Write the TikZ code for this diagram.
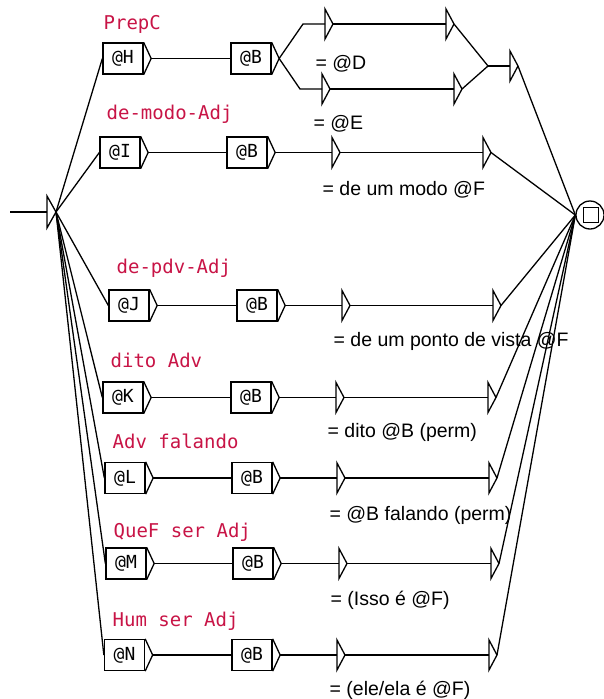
\documentclass[tikz,border=0pt]{standalone}
\usepackage{fontspec}
\setmainfont{Liberation Sans}
\newfontfamily\monof{DejaVu Sans Mono}
\definecolor{lbl}{RGB}{200,20,70}
\newcommand\UBox[4]{%
  \node[boxst] (#1) at (#2,#3) {#4};
  \coordinate (#1-o) at ([xshift=7.5pt]#1.east);
  \draw (#1.north east) -- (#1-o) -- (#1.south east);
}
\newcommand\ETri[3]{%
  \coordinate (#1) at (#2,#3);
  \coordinate (#1-o) at (#2+8,#3);
  \draw (#2,#3-15) -- (#2,#3+15) -- (#1-o) -- cycle;
}
\begin{document}
\begin{tikzpicture}[x=1pt,y=-1pt,line width=1.3pt,
  boxst/.style={draw,rectangle,minimum width=40pt,minimum height=31pt,inner sep=0pt,font=\monof\fontsize{18}{18}\selectfont},
  lblst/.style={anchor=base west,inner sep=0pt,text=lbl,font=\monof\fontsize{19}{19}\selectfont},
  outst/.style={anchor=base west,inner sep=0pt,font=\fontsize{19.5}{19.5}\selectfont}]
\useasboundingbox (0,0) rectangle (603,699);

% start
\coordinate (s0) at (10,212);
\coordinate (s) at (56,212);
\draw (s0) -- (47,212);
\draw (47,196) -- (47,228) -- (s) -- cycle;

% final
\node[circle,draw,minimum size=28pt,inner sep=0pt] (fin) at (590,215) {};
\node[draw,minimum size=15pt,inner sep=0pt] (finsq) at (591,215) {};

% labels
\node[lblst] (l1) at (103,29) {PrepC};
\node[lblst] (l2) at (106,119) {de-modo-Adj};
\node[lblst] (l3) at (116,273) {de-pdv-Adj};
\node[lblst] (l4) at (110,367) {dito Adv};
\node[lblst] (l5) at (112,448) {Adv falando};
\node[lblst] (l6) at (113,537) {QueF ser Adj};
\node[lblst] (l7) at (112,626) {Hum ser Adj};

% outputs
\node[outst] (o1) at (315,69) {= @D};
\node[outst] (o2) at (313,129) {= @E};
\node[outst] (o3) at (322,195) {= de um modo @F};
\node[outst] (o4) at (333,346) {= de um ponto de vista @F};
\node[outst] (o5) at (327,437) {= dito @B (perm)};
\node[outst] (o6) at (329,520) {= @B falando (perm)};
\node[outst] (o7) at (330,605) {= (Isso é @F)};
\node[outst] (o8) at (329,695) {= (ele/ela é @F)};

% branch 1
\UBox{h}{123}{58.5}{@H}
\UBox{b1}{251}{58.5}{@B}
\coordinate (u1) at (303,24);
\coordinate (w1) at (300,89);
\ETri{d1}{325}{24}
\ETri{d2}{446}{24}
\ETri{e1}{322}{89}
\ETri{e2}{454}{89}
\coordinate (m1) at (488,66);
\ETri{f1}{510}{66}
\draw (h-o) -- (b1.west);
\draw (b1-o) -- (u1) -- (d1);
\draw (d1-o) -- (d2);
\draw (d2-o) -- (m1);
\draw (b1-o) -- (w1) -- (e1);
\draw (e1-o) -- (e2);
\draw (e2-o) -- (m1);
\draw (m1) -- (f1);
\draw (f1-o) -- (fin.west);

% branch 2
\UBox{i}{120}{152.5}{@I}
\UBox{b2}{247}{152.5}{@B}
\ETri{g1}{332}{152.5}
\ETri{g2}{483}{152.5}
\draw (i-o) -- (b2.west);
\draw (b2-o) -- (g1);
\draw (g1-o) -- (g2);
\draw (g2-o) -- (fin.west);

% branch 3
\UBox{j}{129}{305.5}{@J}
\UBox{b3}{257}{305.5}{@B}
\ETri{k1}{342}{305.5}
\ETri{k2}{493}{305.5}
\draw (j-o) -- (b3.west);
\draw (b3-o) -- (k1);
\draw (k1-o) -- (k2);
\draw (k2-o) -- (fin.west);

% branch 4
\UBox{k}{123}{397.5}{@K}
\UBox{b4}{251}{397.5}{@B}
\ETri{p1}{336}{397.5}
\ETri{p2}{488}{397.5}
\draw (k-o) -- (b4.west);
\draw (b4-o) -- (p1);
\draw (p1-o) -- (p2);
\draw (p2-o) -- (fin.west);

% branch 5
\UBox{l}{125}{478}{@L}
\UBox{b5}{252}{478}{@B}
\ETri{q1}{337}{478}
\ETri{q2}{489}{478}
\draw (l-o) -- (b5.west);
\draw (b5-o) -- (q1);
\draw (q1-o) -- (q2);
\draw (q2-o) -- (fin.west);

% branch 6
\UBox{m}{126}{563.5}{@M}
\UBox{b6}{253}{563.5}{@B}
\ETri{r1}{339}{563.5}
\ETri{r2}{491}{563.5}
\draw (m-o) -- (b6.west);
\draw (b6-o) -- (r1);
\draw (r1-o) -- (r2);
\draw (r2-o) -- (fin.west);

% branch 7
\UBox{n}{124.5}{655}{@N}
\UBox{b7}{252}{655}{@B}
\ETri{t1}{337}{655}
\ETri{t2}{489}{655}
\draw (n-o) -- (b7.west);
\draw (b7-o) -- (t1);
\draw (t1-o) -- (t2);
\draw (t2-o) -- (fin.west);

% from start to all boxes
\foreach \x in {h,i,j,k,l,m,n} { \draw (s) -- (\x.west); }
\end{tikzpicture}
\end{document}
